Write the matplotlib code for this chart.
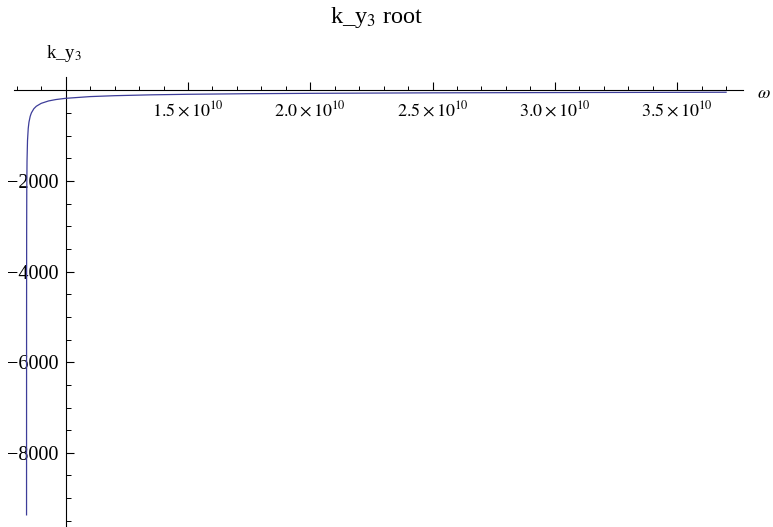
import matplotlib
matplotlib.use("Agg")
import matplotlib.pyplot as plt
from matplotlib.ticker import FixedLocator, FixedFormatter

plt.rcParams["font.family"] = ["Liberation Serif", "DejaVu Serif"]
plt.rcParams["mathtext.fontset"] = "stix"

# Frequency omega (units of 1e10) and the k_y3 root
omega = [0.840056, 0.8402, 0.8405, 0.8410, 0.8420, 0.8440, 0.8470, 0.8500,
         0.8550, 0.8600, 0.8700, 0.8800, 0.9000, 0.9300, 0.9600, 1.0000,
         1.1000, 1.2000, 1.3500, 1.5000, 1.7500, 2.0000, 2.5000, 3.0000,
         3.5000, 3.7000]
k_y3 = [-9370, -4950, -3130, -2214, -1565, -1107, -837, -700,
        -572, -495, -404, -350, -286, -233, -202, -175,
        -137, -117, -98, -86, -73, -65, -54, -48,
        -43, -41]

x_major = [1.5, 2.0, 2.5, 3.0, 3.5]
x_labels = [r"$1.5\times10^{10}$", r"$2.0\times10^{10}$", r"$2.5\times10^{10}$",
            r"$3.0\times10^{10}$", r"$3.5\times10^{10}$"]
x_minor = [round(0.8 + 0.1 * i, 1) for i in range(30)]
y_major = [-2000, -4000, -6000, -8000]
y_labels = ["\u22122000", "\u22124000", "\u22126000", "\u22128000"]
y_minor = [-500 * i for i in range(1, 20)]

W, H = 773, 527
fig = plt.figure(figsize=(W / 100, H / 100), dpi=100)
left_px, right_px = 14.3, 743.2
top_px, bot_px = 76.8, 527.1
ax = fig.add_axes([left_px / W, (H - bot_px) / H,
                   (right_px - left_px) / W, (bot_px - top_px) / H])

ax.plot(omega, k_y3, color="#3d3d99", lw=0.9)

ax.set_xlim(0.79, 3.77)
ax.set_ylim(-9640, 300)

for s in ("top", "right"):
    ax.spines[s].set_visible(False)
ax.spines["left"].set_position(("data", 1.0))
ax.spines["bottom"].set_position(("data", 0))
for s in ("left", "bottom"):
    ax.spines[s].set_linewidth(0.8)
    ax.spines[s].set_zorder(1)

ax.xaxis.set_major_locator(FixedLocator(x_major))
ax.xaxis.set_major_formatter(FixedFormatter(x_labels))
ax.xaxis.set_minor_locator(FixedLocator(x_minor))
ax.yaxis.set_major_locator(FixedLocator(y_major))
ax.yaxis.set_major_formatter(FixedFormatter(y_labels))
ax.yaxis.set_minor_locator(FixedLocator(y_minor))

ax.tick_params(axis="x", which="major", direction="in", length=5.5, width=0.8,
               pad=7, labelsize=13)
ax.tick_params(axis="x", which="minor", direction="in", length=3, width=0.7)
ax.tick_params(axis="y", which="major", direction="in", length=6, width=0.8,
               pad=5, labelsize=14.5)
ax.tick_params(axis="y", which="minor", direction="in", length=3.8, width=0.7)

fig.text(377 / W, 1 - 17 / H, r"k_y$_3$ root", ha="center", va="center", fontsize=17.5)
fig.text(46 / W, 1 - 53 / H, r"k_y$_3$", ha="left", va="center", fontsize=13.5)
fig.text(757 / W, 1 - 93 / H, r"$\omega$", ha="left", va="center", fontsize=13)

fig.savefig("out.png", dpi=100)
